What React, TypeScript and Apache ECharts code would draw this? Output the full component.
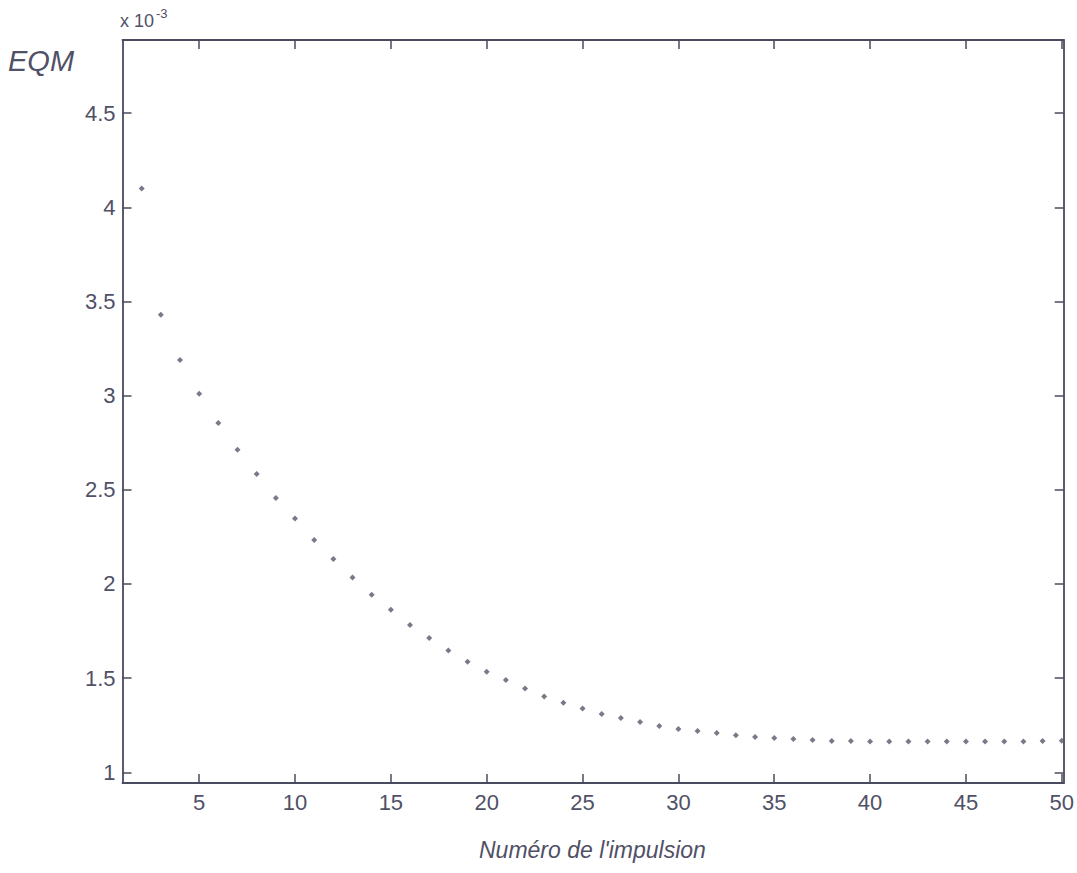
import React, { useEffect, useRef } from "react";
import * as echarts from "echarts";

// Impulse numbers (x) and mean squared error values (EQM)
const impulseNumbers: number[] = [
  2, 3, 4, 5, 6, 7, 8, 9, 10, 11, 12, 13, 14, 15, 16, 17, 18, 19, 20, 21, 22, 23, 24, 25,
  26, 27, 28, 29, 30, 31, 32, 33, 34, 35, 36, 37, 38, 39, 40, 41, 42, 43, 44, 45, 46, 47,
  48, 49, 50,
];

const eqmValues: number[] = [
  4.10e-3, 3.43e-3, 3.19e-3, 3.01e-3, 2.855e-3, 2.713e-3, 2.584e-3, 2.456e-3, 2.348e-3,
  2.233e-3, 2.132e-3, 2.035e-3, 1.943e-3, 1.863e-3, 1.782e-3, 1.713e-3, 1.647e-3, 1.587e-3,
  1.534e-3, 1.49e-3, 1.445e-3, 1.403e-3, 1.369e-3, 1.338e-3, 1.309e-3, 1.288e-3, 1.267e-3,
  1.246e-3, 1.23e-3, 1.219e-3, 1.209e-3, 1.196e-3, 1.187e-3, 1.182e-3, 1.177e-3, 1.171e-3,
  1.166e-3, 1.166e-3, 1.163e-3, 1.163e-3, 1.163e-3, 1.163e-3, 1.163e-3, 1.163e-3, 1.163e-3,
  1.163e-3, 1.163e-3, 1.166e-3, 1.168e-3,
];

const xTicks: number[] = [5, 10, 15, 20, 25, 30, 35, 40, 45, 50];
const yTicks: number[] = [1e-3, 1.5e-3, 2e-3, 2.5e-3, 3e-3, 3.5e-3, 4e-3, 4.5e-3];

const xLabel = "Numéro de l'impulsion";
const yLabel = "EQM";

const AXIS = "#4a4a5e";
const TEXT = "#505066";
const FONT = "'Liberation Sans', Arial, Helvetica, sans-serif";

export default function App() {
  const ref = useRef<HTMLDivElement>(null);

  useEffect(() => {
    if (!ref.current) return;
    const chart = echarts.init(ref.current, undefined, { renderer: "svg" });

    const xMin = 1;
    const xMax = 50.1;
    const yMin = 0.943e-3;
    const yMax = 4.889e-3;

    const axisLine = { show: true, lineStyle: { color: AXIS, width: 1.8 } };
    const tickStyle = { color: AXIS, width: 1.5 };

    const fmtY = (v: number) => String(Math.round(v * 1e4) / 10);

    chart.setOption({
      animation: false,
      backgroundColor: "#ffffff",
      grid: { left: 122.5, right: 12, top: 40, bottom: 90, containLabel: false },
      xAxis: [
        {
          type: "value",
          position: "bottom",
          min: xMin,
          max: xMax,
          axisLine,
          axisTick: {
            show: true,
            inside: true,
            length: 9,
            lineStyle: tickStyle,
            customValues: xTicks,
          },
          axisLabel: {
            show: true,
            customValues: xTicks,
            color: TEXT,
            fontSize: 22,
            fontFamily: FONT,
            margin: 8,
          },
          splitLine: { show: false },
        },
        {
          type: "value",
          position: "top",
          min: xMin,
          max: xMax,
          axisLine,
          axisTick: {
            show: true,
            inside: true,
            length: 9,
            lineStyle: tickStyle,
            customValues: xTicks,
          },
          axisLabel: { show: false },
          splitLine: { show: false },
        },
      ],
      yAxis: [
        {
          type: "value",
          position: "left",
          min: yMin,
          max: yMax,
          axisLine,
          axisTick: {
            show: true,
            inside: true,
            length: 9,
            lineStyle: tickStyle,
            customValues: yTicks,
          },
          axisLabel: {
            show: true,
            customValues: yTicks,
            formatter: fmtY,
            color: TEXT,
            fontSize: 22,
            fontFamily: FONT,
            margin: 7,
          },
          splitLine: { show: false },
        },
        {
          type: "value",
          position: "right",
          min: yMin,
          max: yMax,
          axisLine,
          axisTick: {
            show: true,
            inside: true,
            length: 9,
            lineStyle: tickStyle,
            customValues: yTicks,
          },
          axisLabel: { show: false },
          splitLine: { show: false },
        },
      ],
      series: [
        {
          type: "scatter",
          xAxisIndex: 0,
          yAxisIndex: 0,
          data: impulseNumbers.map((x, i) => [x, eqmValues[i]]),
          symbol: "diamond",
          symbolSize: 6,
          itemStyle: { color: "#58586c" },
        },
      ],
      graphic: [
        {
          type: "text",
          left: 8,
          top: 46,
          style: {
            text: yLabel,
            fill: TEXT,
            font: `italic 29px ${FONT}`,
          },
        },
        {
          type: "text",
          left: 120,
          top: 12,
          style: {
            text: "x 10",
            fill: TEXT,
            font: `18px ${FONT}`,
          },
        },
        {
          type: "text",
          left: 156,
          top: 7,
          style: {
            text: "-3",
            fill: TEXT,
            font: `13px ${FONT}`,
          },
        },
        {
          type: "text",
          left: 479,
          top: 838,
          style: {
            text: xLabel,
            fill: TEXT,
            font: `italic 23px ${FONT}`,
          },
        },
      ],
    });

    return () => chart.dispose();
  }, []);

  return (
    <div
      ref={ref}
      style={{ position: "fixed", left: 0, top: 0, width: 1077, height: 873, background: "#fff" }}
    />
  );
}
